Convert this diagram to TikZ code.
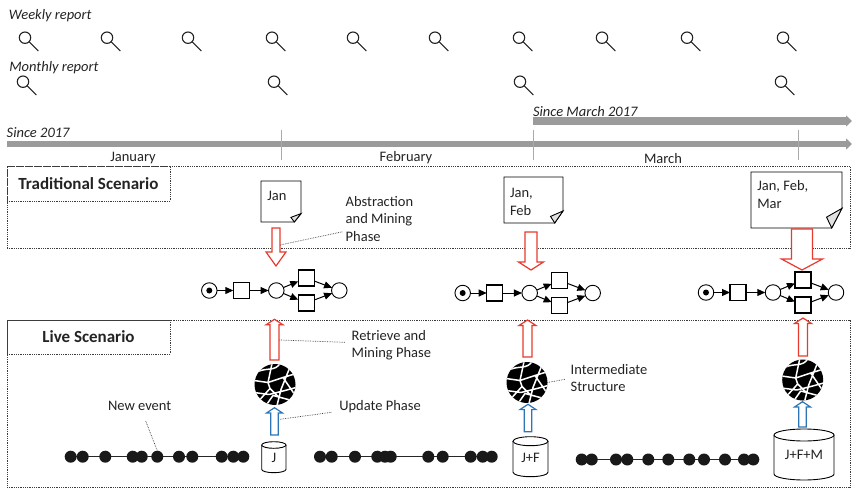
\documentclass[tikz,border=0pt]{standalone}
\usepackage{fontspec}
\setmainfont{Carlito}
\usetikzlibrary{arrows.meta,calc,backgrounds}

\definecolor{txt}{RGB}{35,35,35}
\definecolor{barGray}{RGB}{155,155,155}
\definecolor{tickGray}{RGB}{170,170,170}
\definecolor{phaseRed}{RGB}{232,58,46}
\definecolor{phaseBlue}{RGB}{46,117,182}
\definecolor{foldGray}{RGB}{225,225,225}
\definecolor{dotLine}{RGB}{60,60,60}

\tikzset{
  every node/.style={text=txt, inner sep=0pt, outer sep=0pt},
  lbl/.style={font=\fontsize{14.5}{17.5}\selectfont, align=left},
  ilbl/.style={font=\fontsize{14.5}{17.5}\selectfont\itshape},
  scen/.style={draw=dotLine, densely dotted, line width=0.8pt},
  scenlbl/.style={scen, font=\fontsize{17}{20}\selectfont\bfseries,
    minimum width=163pt, minimum height=35pt, anchor=north west},
  leader/.style={draw=dotLine, densely dotted, line width=0.7pt},
  place/.style={circle, draw=black, line width=0.9pt, minimum size=15.5pt, fill=white},
  token/.style={circle, fill=black, minimum size=6pt},
  trans/.style={rectangle, draw=black, line width=1.3pt, minimum size=16pt, fill=white},
  flow/.style={line width=1pt, -{Triangle[length=8pt,width=7pt]}},
  timebar/.style={barGray, line width=6.5pt, -{Triangle[length=6pt,width=11pt]}},
  monthtick/.style={tickGray, line width=0.8pt},
  lensline/.style={line width=1.1pt, draw=txt},
  event/.style={circle, fill=black!90, minimum size=12pt},
  redblock/.style={draw=phaseRed, line width=1.2pt, fill=white},
  blueblock/.style={draw=phaseBlue, line width=1.2pt, fill=white},
  outline/.style={draw=black, line width=0.9pt, fill=white},
  pics/magnifier/.style={code={
    \draw[lensline] (0,0) circle[radius=5.7pt];
    \draw[lensline] (4,4) -- (13.3,13.3);
  }},
  pics/petrinet/.style={code={
    \node[place] (-s) at (0,0) {};
    \node[token] (-tok) at (0,0) {};
    \node[trans] (-t1) at (32,0) {};
    \node[place] (-p) at (67,0) {};
    \node[trans] (-tu) at (97,-12.5) {};
    \node[trans] (-tl) at (97,12.5) {};
    \node[place] (-e) at (130,0) {};
    \draw[flow] (-s) -- (-t1);
    \draw[flow] (-t1) -- (-p);
    \draw[flow] (-p) -- (-tu);
    \draw[flow] (-p) -- (-tl);
    \draw[flow] (-tu) -- (-e);
    \draw[flow] (-tl) -- (-e);
  }},
  pics/netball/.style={code={
    \node[circle, fill=black, minimum size=41pt] (-ball) at (0,0) {};
    \begin{scope}
      \clip (0,0) circle[radius=20.5pt];
      \draw[white, line width=1.5pt, line join=round, line cap=round]
        (-21,-4) -- (-7,-2) -- (8,-7) -- (21,-11)
        (-17,-13) .. controls (-8,-17) and (0,-13) .. (5,-21)
        (-15,15) -- (-5,4) -- (-7,-2) -- (-3,-21)
        (-21,8) -- (-6,10) -- (10,6) -- (21,3)
        (2,21) -- (6,5) -- (14,-15)
        (-9,21) -- (-2,11) -- (17,16)
        (8,-7) -- (19,9)
        (-5,4) -- (3,12);
    \end{scope}
  }},
}

% hollow block arrow: style, tail, tip, half shaft, half head, head length
\newcommand\blockarrow[6]{%
  \draw[#1] let \p1=(#2), \p2=(#3), \n1={ifthenelse(\y1>\y2,1,-1)} in
    (\x1-#4pt,\y1) -- (\x1-#4pt,\y2+\n1*#6pt) -- (\x1-#5pt,\y2+\n1*#6pt)
    -- (\x2,\y2) -- (\x1+#5pt,\y2+\n1*#6pt) -- (\x1+#4pt,\y2+\n1*#6pt)
    -- (\x1+#4pt,\y1) -- cycle;
}
% sheet with a folded corner: node, fold width, fold height
\newcommand\dogear[3]{%
  \draw[outline] (#1.north west) -- (#1.north east) -- ($(#1.south east)+(0,-#3)$)
    -- ($(#1.south east)+(-#2,0)$) -- (#1.south west) -- cycle;
  \filldraw[line width=0.9pt, fill=foldGray] ($(#1.south east)+(0,-#3)$)
    -- ($(#1.south east)+(-#2,0)$) -- ($(#1.south east)+(-1.5*#2,-0.55*#3)$) -- cycle;
}
% storage drum: node, x radius, y radius
\newcommand\drum[3]{%
  \draw[outline] ($(#1.north west)+(0,#3)$) -- ($(#1.south west)+(0,-#3)$)
    arc[start angle=180, end angle=360, x radius=#2pt, y radius=#3pt]
    -- ($(#1.north east)+(0,#3)$);
  \draw[outline] ($(#1.north)+(0,#3)$) ellipse[x radius=#2pt, y radius=#3pt];
}

\begin{document}
\begin{tikzpicture}[x=1pt,y=-1pt]
\useasboundingbox (0,0) rectangle (852,490);

% ---- reporting schedule
\node[ilbl, anchor=base west] (weekly) at (9,19) {Weekly report};
\foreach \i/\x in {1/25,2/107,3/188,4/272,5/353,6/435,7/519,8/602,9/687,10/783}
  \pic (wk\i) at (\x,37.7) {magnifier};
\node[ilbl, anchor=base west] (monthly) at (9.3,71.7) {Monthly report};
\foreach \i/\x in {1/23,2/274,3/520,4/781}
  \pic (mo\i) at (\x,81.7) {magnifier};

% ---- time line
\node[ilbl, anchor=base west] (since17) at (6.7,137.7) {Since 2017};
\node[ilbl, anchor=base west] (sincemar) at (533,116) {Since March 2017};
\coordinate (bar1a) at (7,144);
\coordinate (bar1b) at (852,144);
\coordinate (bar2a) at (533,121);
\coordinate (bar2b) at (852,121);
\draw[timebar] (bar1a) -- (bar1b);
\draw[timebar, line width=7.5pt] (bar2a) -- (bar2b);
\draw[monthtick] (281,130) -- (281,160);
\draw[monthtick] (533,130) -- (533,160);
\draw[monthtick] (798,130) -- (798,160);
\node[lbl, anchor=base] (jan) at (133,161) {January};
\node[lbl, anchor=base] (feb) at (406,161) {February};
\node[lbl, anchor=base] (mar) at (663,163) {March};

% ---- scenario frames
\node[scen, minimum width=843pt, minimum height=82pt, anchor=north west] (tradbox) at (7,166) {};
\node[scenlbl] (tradlbl) at (tradbox.north west) {Traditional Scenario};
\node[scen, minimum width=843pt, minimum height=167pt, anchor=north west] (livebox) at (7,320) {};
\node[scenlbl, minimum height=34pt] (livelbl) at (livebox.north west) {Live Scenario};

% ---- accumulated logs (base anchor = baseline of the last line)
\node[minimum width=40pt, minimum height=41pt, anchor=north west] (doc1) at (261,181) {};
\dogear{doc1}{6.7}{8.4}
\node[lbl, anchor=base west] (doc1t) at (267.3,200) {Jan};
\node[minimum width=59pt, minimum height=46pt, anchor=north west] (doc2) at (504,177) {};
\dogear{doc2}{8.3}{12}
\node[lbl, anchor=base west] (doc2t) at (510,215) {Jan,\\Feb};
\node[minimum width=91pt, minimum height=56pt, anchor=north west] (doc3) at (751,172) {};
\dogear{doc3}{10.3}{19.7}
\node[lbl, anchor=base west] (doc3t) at (757.3,208.3) {Jan, Feb,\\Mar};

% ---- discovered process models
\pic (m1) at (209.3,290.5) {petrinet};
\pic (m2) at (462.7,293) {petrinet};
\pic (m3) at (706,292.5) {petrinet};

% ---- abstraction and mining
\coordinate (am1a) at (276,228);   \coordinate (am1b) at (276,266);
\coordinate (am2a) at (531,232);   \coordinate (am2b) at (531,270);
\coordinate (am3a) at (802,229);   \coordinate (am3b) at (802,270);
\blockarrow{redblock}{am1a}{am1b}{4}{10}{14}
\blockarrow{redblock}{am2a}{am2b}{6}{12.5}{8}
\blockarrow{redblock}{am3a}{am3b}{10.5}{20.5}{11}

% ---- intermediate structures
\pic (ib1) at (275,384.5) {netball};
\pic (ib2) at (527,382.5) {netball};
\pic (ib3) at (802.7,380) {netball};

% ---- retrieve and mining
\coordinate (rm1a) at (274.5,360); \coordinate (rm1b) at (274.5,319.3);
\coordinate (rm2a) at (527.5,357); \coordinate (rm2b) at (527.5,320);
\coordinate (rm3a) at (803,356);   \coordinate (rm3b) at (803,318);
\blockarrow{redblock}{rm1a}{rm1b}{4.5}{8.5}{5.5}
\blockarrow{redblock}{rm2a}{rm2b}{4.5}{8.5}{5.5}
\blockarrow{redblock}{rm3a}{rm3b}{4.5}{8.5}{5.5}

% ---- event stores
\node[minimum width=24.3pt, minimum height=31pt, anchor=north west] (db1) at (261.7,441.7) {};
\drum{db1}{12.15}{3.3}
\node[lbl] (db1t) at ($(db1.center)+(0,1)$) {J};
\node[minimum width=35pt, minimum height=40pt, anchor=north west] (db2) at (513,436.7) {};
\drum{db2}{17.5}{4.5}
\node[lbl] (db2t) at ($(db2.center)+(0,1)$) {J+F};
\node[minimum width=60pt, minimum height=51pt, anchor=north west] (db3) at (774,429) {};
\drum{db3}{30}{6}
\node[lbl] (db3t) at ($(db3.center)+(0,0)$) {J+F+M};

% ---- update
\coordinate (up1a) at (274.5,435);   \coordinate (up1b) at (274.5,407.7);
\coordinate (up2a) at (528,431.7);   \coordinate (up2b) at (528,404.3);
\coordinate (up3a) at (802.5,427);   \coordinate (up3b) at (802.5,401.7);
\blockarrow{blueblock}{up1a}{up1b}{3.8}{8}{5.3}
\blockarrow{blueblock}{up2a}{up2b}{3.8}{8}{5.3}
\blockarrow{blueblock}{up3a}{up3b}{3.8}{8}{5.3}

% ---- event streams
\foreach \c/\y/\xs in {
    1/456.7/{70.7,82.7,105.3,132.7,141.7,157.3,179,192.3,221.7,233.3,243.3},
    2/456.7/{320,331.7,355,377.3,385,390.7,428.3,442.7,470.7,482.7,491.7},
    3/459.5/{581.7,591.7,616,627.3,648.3,668.3,689.3,704,725,744,753.3}} {
  \foreach \x [count=\k] in \xs
    \node[event] (e\c-\k) at (\x,\y) {};
  \begin{pgfonlayer}{background}
    \draw[line width=1pt, black!85] (e\c-1.center) -- (e\c-11.center);
  \end{pgfonlayer}
}

% ---- annotations (base anchor = baseline of the last line)
\node[lbl, anchor=base west] (abslbl) at (345.7,241) {Abstraction\\and Mining\\Phase};
\coordinate (absfrom) at (280,245);
\coordinate (absto) at (343,231.7);
\draw[leader] (absfrom) -- (absto);

\node[lbl, anchor=base west] (rmlbl) at (351.7,357.7) {Retrieve and\\Mining Phase};
\coordinate (rmfrom) at (279.5,340);
\coordinate (rmto) at (345,342.3);
\draw[leader] (rmfrom) -- (rmto);

\node[lbl, anchor=base west] (uplbl) at (339.3,410) {Update Phase};
\coordinate (upfrom) at (280,419.3);
\coordinate (upto) at (331.7,412.3);
\draw[leader] (upfrom) -- (upto);

\node[lbl, anchor=base west] (islbl) at (570.7,391.7) {Intermediate\\Structure};
\coordinate (isto) at (565,379.3);
\draw[leader] (ib2-ball.east) -- (isto);

\node[lbl, anchor=base west] (newevt) at (108,410) {New event};
\coordinate (nefrom) at (145.7,421);
\draw[leader] (nefrom) -- (e1-6.north);
\end{tikzpicture}
\end{document}
